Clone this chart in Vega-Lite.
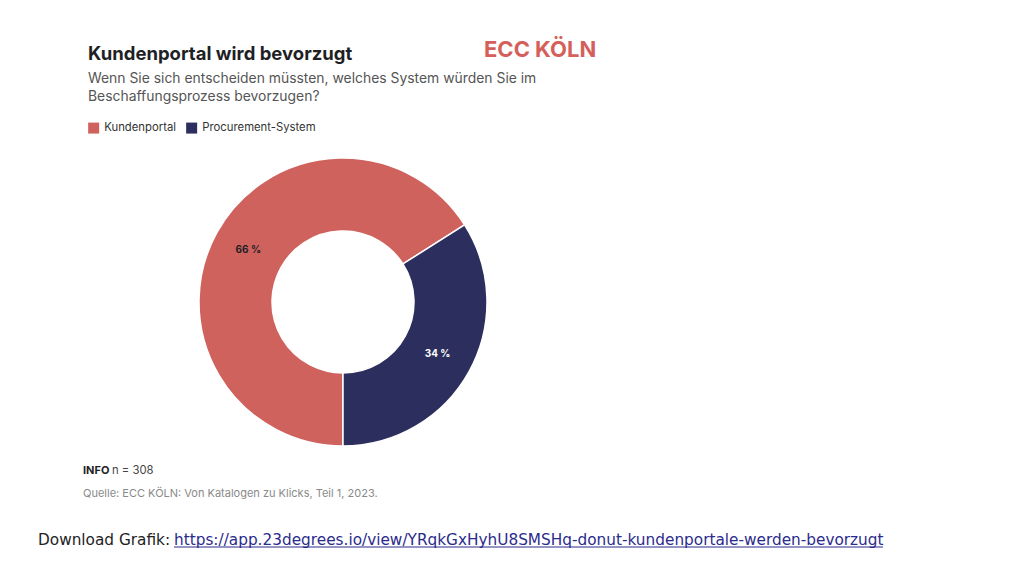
{
  "$schema": "https://vega.github.io/schema/vega-lite/v6.json",
  "autosize": "none",
  "width": 520,
  "height": 288,
  "padding": {"left": 83, "top": 158, "right": 421, "bottom": 130},
  "background": "white",
  "config": {"view": {"stroke": null}, "font": "Inter"},
  "title": {
    "text": "Kundenportal wird bevorzugt",
    "subtitle": ["Wenn Sie sich entscheiden müssten, welches System würden Sie im", "Beschaffungsprozess bevorzugen?"],
    "anchor": "start",
    "frame": "group",
    "dx": 5,
    "offset": -65,
    "font": "Inter",
    "fontSize": 18.5,
    "fontWeight": 700,
    "color": "#1f1f26",
    "subtitleFont": "Inter",
    "subtitleFontSize": 13.9,
    "subtitleColor": "#555555",
    "subtitleLineHeight": 18,
    "subtitlePadding": 9
  },
  "data": {
    "values": [
      {"system": "Kundenportal", "pct": 66, "label": "66 %"},
      {"system": "Procurement-System", "pct": 34, "label": "34 %"}
    ]
  },
  "layer": [
    {
      "mark": {"type": "arc", "outerRadius": 144, "innerRadius": 71, "stroke": "white", "strokeWidth": 1.5},
      "encoding": {
        "theta": {"field": "pct", "type": "quantitative", "stack": true, "scale": {"range": [3.14159265, 9.42477796]}},
        "order": {"field": "pct", "type": "quantitative", "sort": "descending"},
        "color": {
          "field": "system",
          "type": "nominal",
          "scale": {"domain": ["Kundenportal", "Procurement-System"], "range": ["#CF625D", "#2C2F5E"]},
          "legend": {
            "title": null,
            "orient": "none",
            "direction": "horizontal",
            "legendX": 5,
            "legendY": -36,
            "symbolType": "square",
            "symbolSize": 121,
            "symbolStrokeWidth": 0,
            "labelFont": "Inter",
            "labelFontSize": 11.3,
            "labelColor": "#333333",
            "columnPadding": 10,
            "labelOffset": 5
          }
        }
      }
    },
    {
      "mark": {"type": "text", "radius": 108, "fontSize": 10, "fontWeight": 700, "font": "Inter"},
      "encoding": {
        "theta": {"field": "pct", "type": "quantitative", "stack": true},
        "order": {"field": "pct", "type": "quantitative", "sort": "descending"},
        "detail": {"field": "system", "type": "nominal"},
        "text": {"field": "label"},
        "fill": {"condition": {"test": "datum.system === 'Kundenportal'", "value": "#1f1f26"}, "value": "#ffffff"}
      }
    },
    {
      "data": {"values": [{"t": "ECC KÖLN"}]},
      "mark": {"type": "text", "align": "left", "baseline": "alphabetic", "fontSize": 22, "fontWeight": 700, "font": "Inter", "color": "#D45F5B"},
      "encoding": {"text": {"field": "t"}, "x": {"value": 401}, "y": {"value": -101}}
    },
    {
      "data": {"values": [{"t": "INFO"}]},
      "mark": {"type": "text", "align": "left", "baseline": "alphabetic", "fontSize": 11, "fontWeight": 700, "font": "Inter", "color": "#1f1f26"},
      "encoding": {"text": {"field": "t"}, "x": {"value": 0}, "y": {"value": 316}}
    },
    {
      "data": {"values": [{"t": "n = 308"}]},
      "mark": {"type": "text", "align": "left", "baseline": "alphabetic", "fontSize": 11.3, "font": "Inter", "color": "#444444"},
      "encoding": {"text": {"field": "t"}, "x": {"value": 29}, "y": {"value": 316}}
    },
    {
      "data": {"values": [{"t": "Quelle: ECC KÖLN: Von Katalogen zu Klicks, Teil 1, 2023."}]},
      "mark": {"type": "text", "align": "left", "baseline": "alphabetic", "fontSize": 11, "font": "Inter", "color": "#8a8a8a"},
      "encoding": {"text": {"field": "t"}, "x": {"value": 0}, "y": {"value": 339}}
    },
    {
      "data": {"values": [{"t": "Download Grafik:"}]},
      "mark": {"type": "text", "align": "left", "baseline": "alphabetic", "fontSize": 15.3, "font": "DejaVu Sans", "color": "#222222"},
      "encoding": {"text": {"field": "t"}, "x": {"value": -45}, "y": {"value": 387}}
    },
    {
      "data": {"values": [{"t": "https://app.23degrees.io/view/YRqkGxHyhU8SMSHq-donut-kundenportale-werden-bevorzugt"}]},
      "mark": {"type": "text", "align": "left", "baseline": "alphabetic", "fontSize": 15.3, "font": "DejaVu Sans", "color": "#2B2B8C"},
      "encoding": {"text": {"field": "t"}, "x": {"value": 91}, "y": {"value": 387}}
    },
    {
      "data": {"values": [{"t": "underline"}]},
      "mark": {"type": "rule", "color": "#2B2B8C", "strokeWidth": 1},
      "encoding": {"x": {"value": 91}, "x2": {"value": 800}, "y": {"value": 389}}
    }
  ]
}
